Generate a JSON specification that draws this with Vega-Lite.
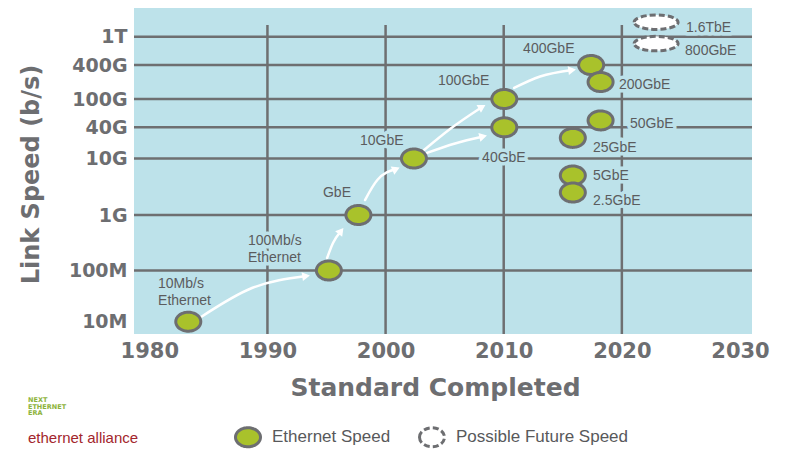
{
  "$schema": "https://vega.github.io/schema/vega-lite/v6.json",
  "width": 618,
  "height": 326,
  "autosize": "none",
  "padding": {"left": 134, "top": 8, "right": 37, "bottom": 131},
  "background": "#ffffff",
  "config": {
    "view": {"fill": "#bde2ea", "stroke": null},
    "font": "Liberation Sans"
  },
  "title": {
    "text": ["NEXT", "ETHERNET", "ERA"],
    "subtitle": "ethernet alliance",
    "orient": "bottom",
    "anchor": "start",
    "frame": "group",
    "align": "left",
    "dx": -106,
    "dy": -60,
    "offset": 4,
    "font": "DejaVu Sans",
    "fontSize": 6.5,
    "fontWeight": "bold",
    "color": "#8db33b",
    "lineHeight": 6.5,
    "subtitleFont": "Liberation Sans",
    "subtitleFontSize": 15,
    "subtitleColor": "#a3262c",
    "subtitlePadding": 14
  },
  "datasets": {
    "standards": [
      {"standard": "10Mb/s Ethernet", "year": 1983.3, "speed": 1e7, "status": "Ethernet Speed"},
      {"standard": "100Mb/s Ethernet", "year": 1995.2, "speed": 1e8, "status": "Ethernet Speed"},
      {"standard": "GbE", "year": 1997.7, "speed": 1e9, "status": "Ethernet Speed"},
      {"standard": "10GbE", "year": 2002.4, "speed": 1e10, "status": "Ethernet Speed"},
      {"standard": "40GbE", "year": 2010.05, "speed": 4e10, "status": "Ethernet Speed"},
      {"standard": "100GbE", "year": 2010.05, "speed": 1e11, "status": "Ethernet Speed"},
      {"standard": "400GbE", "year": 2017.4, "speed": 4e11, "status": "Ethernet Speed"},
      {"standard": "200GbE", "year": 2018.2, "speed": 2e11, "status": "Ethernet Speed"},
      {"standard": "50GbE", "year": 2018.2, "speed": 5e10, "status": "Ethernet Speed"},
      {"standard": "25GbE", "year": 2015.85, "speed": 2.5e10, "status": "Ethernet Speed"},
      {"standard": "5GbE", "year": 2015.85, "speed": 5e9, "status": "Ethernet Speed"},
      {"standard": "2.5GbE", "year": 2015.85, "speed": 2.5e9, "status": "Ethernet Speed"},
      {"standard": "1.6TbE", "year": 2022.9, "speed": 1.6e12, "status": "Possible Future Speed"},
      {"standard": "800GbE", "year": 2022.9, "speed": 8e11, "status": "Possible Future Speed"}
    ],
    "labels": [
      {"text": "10Mb/s\nEthernet", "year": 1980.74, "speed": 4.55e7},
      {"text": "100Mb/s\nEthernet", "year": 1988.35, "speed": 2.88e8},
      {"text": "GbE", "year": 1994.7, "speed": 2.08e9},
      {"text": "10GbE", "year": 1997.83, "speed": 1.82e10},
      {"text": "100GbE", "year": 2004.44, "speed": 1.77e11},
      {"text": "40GbE", "year": 2008.17, "speed": 8.78e9},
      {"text": "400GbE", "year": 2011.64, "speed": 5.9e11},
      {"text": "200GbE", "year": 2019.76, "speed": 1.49e11},
      {"text": "50GbE", "year": 2020.69, "speed": 3.88e10},
      {"text": "25GbE", "year": 2017.56, "speed": 1.35e10},
      {"text": "5GbE", "year": 2017.56, "speed": 4.16e9},
      {"text": "2.5GbE", "year": 2017.56, "speed": 1.5e9},
      {"text": "1.6TbE", "year": 2025.43, "speed": 1.153e12},
      {"text": "800GbE", "year": 2025.35, "speed": 5.53e11}
    ],
    "arrows": [
      {"arrow": "A", "year": 1984.38, "speed": 1.236e7},
      {"arrow": "A", "year": 1988.69, "speed": 4.55e7},
      {"arrow": "A", "year": 1993.27, "speed": 7.81e7},
      {"arrow": "B", "year": 1995.05, "speed": 1.68e8},
      {"arrow": "B", "year": 1995.55, "speed": 3.13e8},
      {"arrow": "B", "year": 1996.23, "speed": 5.15e8},
      {"arrow": "C", "year": 1998.26, "speed": 1.84e9},
      {"arrow": "C", "year": 1999.3, "speed": 4.16e9},
      {"arrow": "C", "year": 2000.89, "speed": 6.52e9},
      {"arrow": "D", "year": 2003.26, "speed": 1.46e10},
      {"arrow": "D", "year": 2005.46, "speed": 3.71e10},
      {"arrow": "D", "year": 2008.17, "speed": 7.72e10},
      {"arrow": "E", "year": 2003.51, "speed": 1.28e10},
      {"arrow": "E", "year": 2005.88, "speed": 1.95e10},
      {"arrow": "E", "year": 2008.26, "speed": 2.66e10},
      {"arrow": "F", "year": 2010.88, "speed": 1.57e11},
      {"arrow": "F", "year": 2013.08, "speed": 2.5e11},
      {"arrow": "F", "year": 2015.79, "speed": 3.26e11}
    ],
    "heads": [
      {"arrow": "A", "year": 1993.27, "speed": 7.81e7, "heading": 81},
      {"arrow": "B", "year": 1996.23, "speed": 5.15e8, "heading": 38},
      {"arrow": "C", "year": 2000.89, "speed": 6.52e9, "heading": 66},
      {"arrow": "D", "year": 2008.17, "speed": 7.72e10, "heading": 60},
      {"arrow": "E", "year": 2008.26, "speed": 2.66e10, "heading": 77},
      {"arrow": "F", "year": 2015.79, "speed": 3.26e11, "heading": 82}
    ],
    "hgrid": [
      {"speed": 1e8}, {"speed": 1e9}, {"speed": 1e10}, {"speed": 4e10},
      {"speed": 1e11}, {"speed": 4e11}, {"speed": 1e12}
    ],
    "vgrid": [
      {"year": 1990}, {"year": 2000}, {"year": 2010}, {"year": 2020}
    ]
  },
  "layer": [
    {
      "data": {"name": "hgrid"},
      "mark": {"type": "rule", "color": "#6e6f71", "strokeWidth": 2.5},
      "encoding": {
        "y": {"field": "speed", "type": "quantitative",
          "scale": {"type": "log", "domain": [1e7, 1e8, 1e9, 1e10, 4e10, 1e11, 4e11, 1e12], "range": [313.7, 262.5, 207, 150.5, 119.3, 91, 57, 28.7]}}
      }
    },
    {
      "data": {"name": "vgrid"},
      "mark": {"type": "rule", "color": "#6e6f71", "strokeWidth": 2.5},
      "encoding": {
        "x": {"field": "year", "type": "quantitative", "scale": {"domain": [1978.705, 2031.016], "nice": false, "zero": false}},
        "y": {"datum": 1.46e12, "type": "quantitative",
          "scale": {"type": "log", "domain": [1e7, 1e8, 1e9, 1e10, 4e10, 1e11, 4e11, 1e12], "range": [313.7, 262.5, 207, 150.5, 119.3, 91, 57, 28.7]}},
        "y2": {"datum": 5.75e6}
      }
    },
    {
      "mark": {"type": "rule", "color": "#6e6f71", "strokeWidth": 2.5},
      "encoding": {
        "x": {"datum": 2030, "type": "quantitative", "scale": {"domain": [1978.705, 2031.016], "nice": false, "zero": false}},
        "y": {"datum": 4.45e11, "type": "quantitative",
          "scale": {"type": "log", "domain": [1e7, 1e8, 1e9, 1e10, 4e10, 1e11, 4e11, 1e12], "range": [313.7, 262.5, 207, 150.5, 119.3, 91, 57, 28.7]}},
        "y2": {"datum": 5.75e6}
      }
    },
    {
      "mark": {"type": "rule", "color": "#6e6f71", "strokeWidth": 4},
      "encoding": {
        "x": {"datum": 1980, "type": "quantitative", "scale": {"domain": [1978.705, 2031.016], "nice": false, "zero": false}},
        "y": {"datum": 1.46e12, "type": "quantitative",
          "scale": {"type": "log", "domain": [1e7, 1e8, 1e9, 1e10, 4e10, 1e11, 4e11, 1e12], "range": [313.7, 262.5, 207, 150.5, 119.3, 91, 57, 28.7]}},
        "y2": {"datum": 5.75e6}
      }
    },
    {
      "mark": {"type": "rule", "color": "#6e6f71", "strokeWidth": 4},
      "encoding": {
        "y": {"datum": 1e7, "type": "quantitative",
          "scale": {"type": "log", "domain": [1e7, 1e8, 1e9, 1e10, 4e10, 1e11, 4e11, 1e12], "range": [313.7, 262.5, 207, 150.5, 119.3, 91, 57, 28.7]}}
      }
    },
    {
      "data": {"name": "labels"},
      "mark": {"type": "text", "align": "left", "baseline": "alphabetic", "lineBreak": "\n", "lineHeight": 17, "font": "Liberation Sans", "fontSize": 14, "fill": "#bde2ea", "stroke": "#bde2ea", "strokeWidth": 7, "strokeJoin": "round"},
      "encoding": {
        "x": {"field": "year", "type": "quantitative", "scale": {"domain": [1978.705, 2031.016], "nice": false, "zero": false}},
        "y": {"field": "speed", "type": "quantitative",
          "scale": {"type": "log", "domain": [1e7, 1e8, 1e9, 1e10, 4e10, 1e11, 4e11, 1e12], "range": [313.7, 262.5, 207, 150.5, 119.3, 91, 57, 28.7]}},
        "text": {"field": "text", "type": "nominal"}
      }
    },
    {
      "data": {"name": "arrows"},
      "mark": {"type": "line", "color": "#ffffff", "strokeWidth": 2.5, "interpolate": "monotone", "strokeCap": "round"},
      "encoding": {
        "x": {"field": "year", "type": "quantitative", "scale": {"domain": [1978.705, 2031.016], "nice": false, "zero": false}},
        "y": {"field": "speed", "type": "quantitative",
          "scale": {"type": "log", "domain": [1e7, 1e8, 1e9, 1e10, 4e10, 1e11, 4e11, 1e12], "range": [313.7, 262.5, 207, 150.5, 119.3, 91, 57, 28.7]}},
        "detail": {"field": "arrow", "type": "nominal"}
      }
    },
    {
      "data": {"name": "heads"},
      "mark": {"type": "point", "shape": "triangle-up", "filled": true, "color": "#ffffff", "opacity": 1, "size": 80},
      "encoding": {
        "x": {"field": "year", "type": "quantitative", "scale": {"domain": [1978.705, 2031.016], "nice": false, "zero": false}},
        "y": {"field": "speed", "type": "quantitative",
          "scale": {"type": "log", "domain": [1e7, 1e8, 1e9, 1e10, 4e10, 1e11, 4e11, 1e12], "range": [313.7, 262.5, 207, 150.5, 119.3, 91, 57, 28.7]}},
        "angle": {"field": "heading", "type": "quantitative", "scale": null}
      }
    },
    {
      "data": {"name": "standards"},
      "transform": [{"filter": "datum.status === 'Ethernet Speed'"}],
      "mark": {"type": "point", "filled": true, "opacity": 1, "stroke": "#6d6e71", "strokeWidth": 3,
        "shape": "M-1,0A1,0.76,0,1,1,1,0A1,0.76,0,1,1,-1,0Z", "size": 625},
      "encoding": {
        "x": {"field": "year", "type": "quantitative", "scale": {"domain": [1978.705, 2031.016], "nice": false, "zero": false},
          "axis": {"title": "Standard Completed", "values": [1980, 1990, 2000, 2010, 2020, 2030], "format": "d", "grid": false, "ticks": false, "domain": false,
            "labelFont": "DejaVu Sans", "labelFontWeight": "bold", "labelFontSize": 21, "labelColor": "#6d6e71", "labelPadding": 6, "labelFlush": false, "labelOverlap": false,
            "titleFont": "DejaVu Sans", "titleFontWeight": "bold", "titleFontSize": 25, "titleColor": "#6d6e71", "titleX": 301, "titleY": 61, "titleBaseline": "alphabetic", "titleAlign": "center"}},
        "y": {"field": "speed", "type": "quantitative",
          "scale": {"type": "log", "domain": [1e7, 1e8, 1e9, 1e10, 4e10, 1e11, 4e11, 1e12], "range": [313.7, 262.5, 207, 150.5, 119.3, 91, 57, 28.7]},
          "axis": {"title": "Link Speed (b/s)", "values": [1e7, 1e8, 1e9, 1e10, 4e10, 1e11, 4e11, 1e12], "format": "~s", "grid": false, "ticks": false, "domain": false,
            "labelFont": "DejaVu Sans", "labelFontWeight": "bold", "labelFontSize": 19, "labelColor": "#6d6e71", "labelPadding": 7, "labelFlush": false, "labelOverlap": false,
            "titleFont": "DejaVu Sans", "titleFontWeight": "bold", "titleFontSize": 24, "titleColor": "#6d6e71", "titleX": -96, "titleY": 166, "titleBaseline": "alphabetic", "titleAlign": "center", "titleAngle": -90}},
        "fill": {"field": "status", "type": "nominal",
          "scale": {"domain": ["Ethernet Speed", "Possible Future Speed"], "range": ["#a9c22b", "#ffffff"]},
          "legend": {"title": null, "orient": "none", "legendX": 100, "legendY": 415, "direction": "horizontal", "padding": 0,
            "symbolType": "M-1,0A1,0.76,0,1,1,1,0A1,0.76,0,1,1,-1,0Z", "symbolSize": 625, "symbolStrokeColor": "#6d6e71", "symbolStrokeWidth": 3,
            "labelFont": "Liberation Sans", "labelFontSize": 17, "labelColor": "#58595b", "labelOffset": 10, "labelLimit": 400, "columnPadding": 22}},
        "strokeDash": {"field": "status", "type": "nominal",
          "scale": {"domain": ["Ethernet Speed", "Possible Future Speed"], "range": [[1, 0], [6, 3]]},
          "legend": {"title": null, "orient": "none", "legendX": 100, "legendY": 415, "direction": "horizontal", "padding": 0,
            "symbolType": "M-1,0A1,0.76,0,1,1,1,0A1,0.76,0,1,1,-1,0Z", "symbolSize": 625, "symbolStrokeColor": "#6d6e71", "symbolStrokeWidth": 3,
            "labelFont": "Liberation Sans", "labelFontSize": 17, "labelColor": "#58595b", "labelOffset": 10, "labelLimit": 400, "columnPadding": 22}}
      }
    },
    {
      "data": {"name": "standards"},
      "transform": [{"filter": "datum.status === 'Possible Future Speed'"}],
      "mark": {"type": "point", "filled": true, "opacity": 1, "stroke": "#6d6e71", "strokeWidth": 3,
        "shape": "M-1,0A1,0.33,0,1,1,1,0A1,0.33,0,1,1,-1,0Z", "size": 1936},
      "encoding": {
        "x": {"field": "year", "type": "quantitative", "scale": {"domain": [1978.705, 2031.016], "nice": false, "zero": false}},
        "y": {"field": "speed", "type": "quantitative",
          "scale": {"type": "log", "domain": [1e7, 1e8, 1e9, 1e10, 4e10, 1e11, 4e11, 1e12], "range": [313.7, 262.5, 207, 150.5, 119.3, 91, 57, 28.7]}},
        "fill": {"field": "status", "type": "nominal",
          "scale": {"domain": ["Ethernet Speed", "Possible Future Speed"], "range": ["#a9c22b", "#ffffff"]}},
        "strokeDash": {"field": "status", "type": "nominal",
          "scale": {"domain": ["Ethernet Speed", "Possible Future Speed"], "range": [[1, 0], [6, 3]]}}
      }
    },
    {
      "data": {"name": "labels"},
      "mark": {"type": "text", "align": "left", "baseline": "alphabetic", "lineBreak": "\n", "lineHeight": 17, "font": "Liberation Sans", "fontSize": 14, "fill": "#5b5c5e"},
      "encoding": {
        "x": {"field": "year", "type": "quantitative", "scale": {"domain": [1978.705, 2031.016], "nice": false, "zero": false}},
        "y": {"field": "speed", "type": "quantitative",
          "scale": {"type": "log", "domain": [1e7, 1e8, 1e9, 1e10, 4e10, 1e11, 4e11, 1e12], "range": [313.7, 262.5, 207, 150.5, 119.3, 91, 57, 28.7]}},
        "text": {"field": "text", "type": "nominal"}
      }
    }
  ]
}
